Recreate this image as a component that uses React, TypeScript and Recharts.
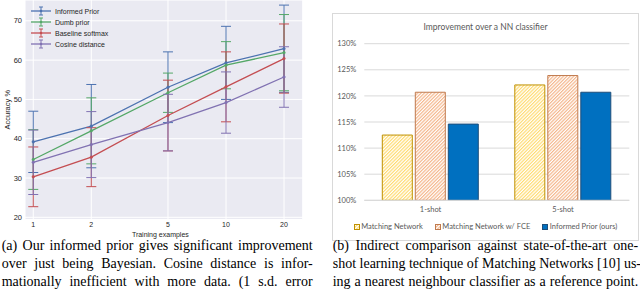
import React from 'react';
import { LineChart, Line, XAxis, YAxis, CartesianGrid, ErrorBar, BarChart, Bar, Legend } from 'recharts';

// ---- Left chart data ----
const trainingExamples = [1, 2, 5, 10, 20];
const informedPrior = [39.2, 43.2, 53.1, 59.3, 62.9];
const informedPriorErr = [7.8, 10.6, 9.0, 9.3, 11.1];
const dumbPrior = [34.7, 42.0, 51.7, 58.7, 61.9];
const dumbPriorErr = [7.6, 8.4, 5.0, 6.0, 9.7];
const baselineSoftmax = [30.3, 35.3, 45.9, 53.2, 60.4];
const baselineSoftmaxErr = [7.6, 7.5, 9.0, 8.9, 8.8];
const cosineDistance = [34.0, 38.5, 44.1, 49.2, 55.7];
const cosineDistanceErr = [8.2, 8.4, 7.2, 7.8, 7.7];
const accuracyTicks = [20, 30, 40, 50, 60, 70];
const lineSeriesNames = ['Informed Prior', 'Dumb prior', 'Baseline softmax', 'Cosine distance'];

// ---- Right chart data ----
const shots = ['1-shot', '5-shot'];
const matchingNetwork = [112.5, 122.1];
const matchingNetworkFCE = [120.7, 123.9];
const informedPriorOurs = [114.6, 120.7];
const improvementTicks = [100, 105, 110, 115, 120, 125, 130];
const barSeriesNames = ['Matching Network', 'Matching Network w/ FCE', 'Informed Prior (ours)'];

const lineColors = ['#4C72B0', '#55A868', '#C44E52', '#8172B2'];
const lineKeys = ['informed', 'dumb', 'baseline', 'cosine'];
const barKeys = ['mn', 'fce', 'ip'];
const barFills = ['url(#mnHatch)', 'url(#fceHatch)', '#0070C0'];
const barStrokes = ['#BF9000', '#C07A4E', '#1F4E79'];

const sans = '"Liberation Sans", Arial, sans-serif';
const officeFont = 'Lato, "Open Sans", sans-serif';
const serif = '"Liberation Serif", "Times New Roman", serif';

const lineData = trainingExamples.map((x, i) => ({
  x,
  informed: informedPrior[i],
  informedErr: informedPriorErr[i],
  dumb: dumbPrior[i],
  dumbErr: dumbPriorErr[i],
  baseline: baselineSoftmax[i],
  baselineErr: baselineSoftmaxErr[i],
  cosine: cosineDistance[i],
  cosineErr: cosineDistanceErr[i],
}));

const barData = shots.map((shot, i) => ({
  shot,
  mn: matchingNetwork[i],
  fce: matchingNetworkFCE[i],
  ip: informedPriorOurs[i],
}));

const LineLegend = () => (
  <div style={{ fontFamily: sans, fontSize: 7, color: '#262626' }}>
    {lineSeriesNames.map((name, i) => {
      const c = lineColors[i];
      return (
        <div key={name} style={{ display: 'flex', alignItems: 'center', height: 11, whiteSpace: 'nowrap' }}>
          <svg width={20} height={10} style={{ marginRight: 4, display: 'block' }}>
            <line x1={0} y1={5} x2={20} y2={5} stroke={c} strokeWidth={1.3} />
            <line x1={10} y1={1} x2={10} y2={9} stroke={c} strokeWidth={1} />
            <line x1={8} y1={1} x2={12} y2={1} stroke={c} strokeWidth={1} />
            <line x1={8} y1={9} x2={12} y2={9} stroke={c} strokeWidth={1} />
            <circle cx={10} cy={5} r={1.3} fill={c} />
          </svg>
          <span>{name}</span>
        </div>
      );
    })}
  </div>
);

const BarLegend = () => (
  <div style={{ display: 'flex', justifyContent: 'center', fontFamily: officeFont, fontSize: 7.5, color: '#595959', whiteSpace: 'nowrap' }}>
    {barSeriesNames.map((name, i) => (
      <div key={name} style={{ display: 'flex', alignItems: 'center', marginRight: i < 2 ? 12 : 0 }}>
        <svg width={6} height={6} style={{ marginRight: 1.5, display: 'block' }}>
          <rect x={0.5} y={0.5} width={5} height={5} fill={barFills[i]} stroke={barStrokes[i]} strokeWidth={1} />
        </svg>
        <span>{name}</span>
      </div>
    ))}
  </div>
);

const captionLine = (text: string) => (
  <div style={{ textAlign: 'justify', textAlignLast: 'justify', whiteSpace: 'nowrap' as const }}>{text}</div>
);

export default function App() {
  return (
    <div style={{ position: 'absolute', left: 0, top: 0, width: 640, height: 290, overflow: 'hidden', background: '#ffffff' }}>
      <svg width={0} height={0} style={{ position: 'absolute' }}>
        <defs>
          <pattern id="mnHatch" patternUnits="userSpaceOnUse" width={2.4} height={2.4} patternTransform="rotate(45)">
            <rect width={2.4} height={2.4} fill="#FFFFFF" />
            <line x1={0.6} y1={0} x2={0.6} y2={2.4} stroke="#FFD966" strokeWidth={1.1} />
          </pattern>
          <pattern id="fceHatch" patternUnits="userSpaceOnUse" width={2.4} height={2.4} patternTransform="rotate(45)">
            <rect width={2.4} height={2.4} fill="#FFFFFF" />
            <line x1={0.6} y1={0} x2={0.6} y2={2.4} stroke="#F4B183" strokeWidth={1.1} />
          </pattern>
        </defs>
      </svg>

      {/* Left: line chart with error bars */}
      <div style={{ position: 'absolute', left: 0, top: 0 }}>
        <LineChart width={320} height={240} data={lineData} margin={{ top: 0, right: 17.3, bottom: 0, left: 0 }}>
          <CartesianGrid fill="#EAEAF2" stroke="#FFFFFF" strokeWidth={1} />
          <XAxis
            dataKey="x"
            type="number"
            scale="log"
            domain={[0.906, 25]}
            ticks={trainingExamples}
            allowDataOverflow
            axisLine={false}
            tickLine={false}
            height={20.5}
            tickSize={1.5}
            tickMargin={1}
            tick={{ fontSize: 7, fill: '#262626', fontFamily: sans }}
            label={{ value: 'Training examples', position: 'insideBottom', offset: 3.5, dx: -3.5, fontSize: 7, fill: '#262626', fontFamily: sans }}
          />
          <YAxis
            type="number"
            domain={[19.44, 75.3]}
            ticks={accuracyTicks}
            allowDataOverflow
            axisLine={false}
            tickLine={false}
            width={25}
            tickSize={1}
            tickMargin={2}
            tick={{ fontSize: 7.5, fill: '#262626', fontFamily: sans }}
            label={{ value: 'Accuracy %', angle: -90, position: 'center', dx: -5, fontSize: 7.5, fill: '#262626', fontFamily: sans }}
          />
          {lineKeys.map((k, i) => (
            <Line
              key={k}
              type="linear"
              dataKey={k}
              name={lineSeriesNames[i]}
              stroke={lineColors[i]}
              strokeWidth={1.3}
              dot={{ r: 1.3, fill: lineColors[i], stroke: lineColors[i], strokeWidth: 0.5 }}
              isAnimationActive={false}
            >
              <ErrorBar dataKey={k + 'Err'} direction="y" width={5} stroke={lineColors[i]} strokeWidth={1} />
            </Line>
          ))}
          <Legend
            layout="horizontal"
            verticalAlign="middle"
            align="center"
            content={LineLegend}
            wrapperStyle={{ left: 31, top: 5.5, width: 'auto', height: 'auto' }}
          />
        </LineChart>
      </div>

      {/* Right: bar chart */}
      <div style={{ position: 'absolute', left: 332, top: 13, width: 305, height: 226, border: '1px solid #D9D9D9' }}>
        <div style={{ position: 'absolute', left: 0, top: 7.5, width: 305, textAlign: 'center', fontFamily: officeFont, fontSize: 8.5, color: '#595959' }}>
          Improvement over a NN classifier
        </div>
        <BarChart width={305} height={226} data={barData} margin={{ top: 29.7, right: 8.7, bottom: 0, left: 0 }} barCategoryGap={18} barGap={3}>
          <CartesianGrid vertical={false} stroke="#D9D9D9" strokeWidth={1} />
          <XAxis
            dataKey="shot"
            axisLine={{ stroke: '#D9D9D9' }}
            tickLine={false}
            height={39.7}
            tickSize={4}
            tickMargin={2}
            tick={{ fontSize: 7.5, fill: '#595959', fontFamily: officeFont }}
          />
          <YAxis
            type="number"
            domain={[100, 130]}
            ticks={improvementTicks}
            tickFormatter={(v: number) => v + '%'}
            allowDataOverflow
            axisLine={false}
            tickLine={false}
            width={31.3}
            tickSize={5}
            tickMargin={3}
            tick={{ fontSize: 7.5, fill: '#595959', fontFamily: officeFont }}
          />
          {barKeys.map((k, i) => (
            <Bar key={k} dataKey={k} name={barSeriesNames[i]} fill={barFills[i]} stroke={barStrokes[i]} strokeWidth={1} isAnimationActive={false} />
          ))}
          <Legend
            layout="horizontal"
            verticalAlign="middle"
            align="center"
            content={BarLegend}
            wrapperStyle={{ left: 0, top: 208, width: 305, height: 'auto' }}
          />
        </BarChart>
      </div>

      {/* Captions */}
      <div style={{ position: 'absolute', left: 1.7, top: 237, width: 311, fontFamily: serif, fontSize: 14, lineHeight: '18px', color: '#000' }}>
        {captionLine('(a) Our informed prior gives significant improvement')}
        {captionLine('over just being Bayesian.  Cosine distance is infor-')}
        {captionLine('mationally inefficient with more data.  (1 s.d. error')}
      </div>
      <div style={{ position: 'absolute', left: 332.7, top: 237, width: 305.5, fontFamily: serif, fontSize: 14, lineHeight: '18px', color: '#000' }}>
        {captionLine('(b) Indirect comparison against state-of-the-art one-')}
        {captionLine('shot learning technique of Matching Networks [10] us-')}
        {captionLine('ing a nearest neighbour classifier as a reference point.')}
      </div>
    </div>
  );
}
